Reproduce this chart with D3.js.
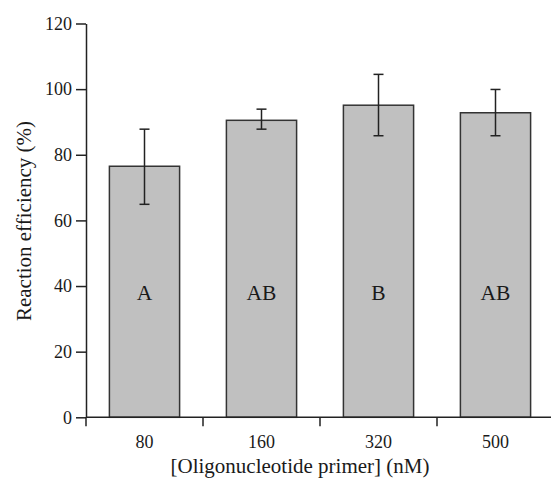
<!DOCTYPE html>
<html><head><meta charset="utf-8">
<script src="https://cdn.jsdelivr.net/npm/d3@7"></script>
<style>body{margin:0;background:#fff}svg{display:block}text{font-family:"Liberation Serif","Times New Roman",serif;fill:#1a1a1a}</style>
</head><body><svg id="c" width="551" height="483"></svg>
<script>
const categories = ["80", "160", "320", "500"];
const means = [76.5, 90.5, 95.1, 92.8];
const errHigh = [87.8, 93.9, 104.5, 99.9];
const errLow = [64.9, 87.8, 85.8, 85.8];
const groups = ["A", "AB", "B", "AB"];
const yTicks = [0, 20, 40, 60, 80, 100, 120];

const svg = d3.select("#c");
const x = d3.scaleBand().domain(categories).range([86, 554]).paddingInner(0.4).paddingOuter(0.2);
const y = d3.scaleLinear().domain([0, 120]).range([417.3, 23.5]);
const ink = "#222";

// bars
svg.selectAll("rect.bar").data(categories).join("rect")
  .attr("x", d => x(d)).attr("width", x.bandwidth())
  .attr("y", (d, i) => y(means[i])).attr("height", (d, i) => y(0) - y(means[i]))
  .attr("fill", "#c0c0c0").attr("stroke", "#333").attr("stroke-width", 1.5);

// error bars
const eb = svg.append("g").attr("stroke", ink).attr("stroke-width", 1.5);
categories.forEach((c, i) => {
  const cx = x(c) + x.bandwidth() / 2;
  eb.append("line").attr("x1", cx).attr("x2", cx).attr("y1", y(errLow[i])).attr("y2", y(errHigh[i]));
  [errLow[i], errHigh[i]].forEach(v => eb.append("line").attr("x1", cx - 5).attr("x2", cx + 5).attr("y1", y(v)).attr("y2", y(v)));
});

// group letters
svg.selectAll("text.grp").data(categories).join("text")
  .attr("x", d => x(d) + x.bandwidth() / 2).attr("y", y(36) + 0.5)
  .attr("text-anchor", "middle").attr("font-size", 21.5).text((d, i) => groups[i]);

// y axis
const ya = svg.append("g").attr("transform", "translate(86,0)")
  .call(d3.axisLeft(y).tickValues(yTicks).tickSize(10).tickSizeOuter(0).tickPadding(4));
ya.selectAll("path,line").attr("stroke", ink).attr("stroke-width", 1.5);
ya.selectAll("text").attr("font-size", 18).attr("font-family", "Liberation Serif, Times New Roman, serif").attr("fill", "#1a1a1a");

// x axis
const xa = svg.append("g").attr("transform", `translate(0,${y(0)})`);
xa.append("line").attr("x1", 86).attr("x2", 551).attr("stroke", ink).attr("stroke-width", 1.5);
const bounds = d3.range(categories.length + 1).map(i => 86 + i * x.step());
xa.selectAll("line.t").data(bounds).join("line").attr("class", "t")
  .attr("x1", d => d).attr("x2", d => d).attr("y1", 0).attr("y2", 9)
  .attr("stroke", ink).attr("stroke-width", 1.5);
xa.selectAll("text").data(categories).join("text")
  .attr("x", d => x(d) + x.bandwidth() / 2).attr("y", 31)
  .attr("text-anchor", "middle").attr("font-size", 18).text(d => d);

// titles
svg.append("text").attr("x", 300).attr("y", 473).attr("text-anchor", "middle")
  .attr("font-size", 21).text("[Oligonucleotide primer] (nM)");
svg.append("text").attr("transform", "translate(31,221) rotate(-90)").attr("text-anchor", "middle")
  .attr("font-size", 21).text("Reaction efficiency (%)");
</script></body></html>
